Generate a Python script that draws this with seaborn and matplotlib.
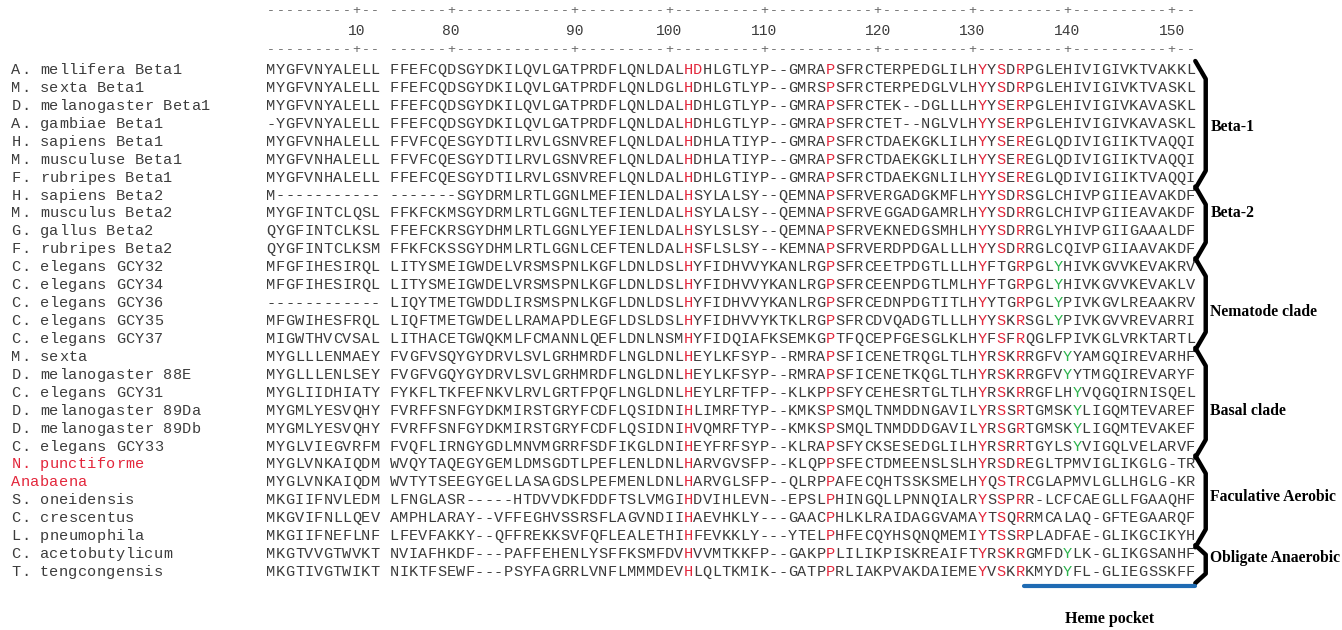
import matplotlib
matplotlib.use("Agg")
import matplotlib.pyplot as plt
import seaborn as sns
import pandas as pd

# sequence names (rows, top to bottom)
names = [
    "A. mellifera Beta1", "M. sexta Beta1", "D. melanogaster Beta1", "A. gambiae Beta1",
    "H. sapiens Beta1", "M. musculuse Beta1", "F. rubripes Beta1",
    "H. sapiens Beta2", "M. musculus Beta2", "G. gallus Beta2", "F. rubripes Beta2",
    "C. elegans GCY32", "C. elegans GCY34", "C. elegans GCY36", "C. elegans GCY35", "C. elegans GCY37",
    "M. sexta", "D. melanogaster 88E", "C. elegans GCY31", "D. melanogaster 89Da",
    "D. melanogaster 89Db", "C. elegans GCY33",
    "N. punctiforme", "Anabaena", "S. oneidensis", "C. crescentus", "L. pneumophila",
    "C. acetobutylicum", "T. tengcongensis",
]
red_names = ["N. punctiforme", "Anabaena"]

# residues 1-12
block1 = [
    "MYGFVNYALELL", "MYGFVNYALELL", "MYGFVNYALELL", "-YGFVNYALELL",
    "MYGFVNHALELL", "MYGFVNHALELL", "MYGFVNHALELL",
    "M-----------", "MYGFINTCLQSL", "QYGFINTCLKSL", "QYGFINTCLKSM",
    "MFGFIHESIRQL", "MFGFIHESIRQL", "------------", "MFGWIHESFRQL", "MIGWTHVCVSAL",
    "MYGLLLENMAEY", "MYGLLLENLSEY", "MYGLIIDHIATY", "MYGMLYESVQHY",
    "MYGMLYESVQHY", "MYGLVIEGVRFM",
    "MYGLVNKAIQDM", "MYGLVNKAIQDM", "MKGIIFNVLEDM", "MKGVIFNLLQEV", "MKGIIFNEFLNF",
    "MKGTVVGTWVKT", "MKGTIVGTWIKT",
]

# residues ~74-152 (aligned)
block2 = [
    "FFEFCQDSGYDKILQVLGATPRDFLQNLDALHDHLGTLYP--GMRAPSFRCTERPEDGLILHYYSDRPGLEHIVIGIVKTVAKKL",
    "FFEFCQDSGYDKILQVLGATPRDFLQNLDGLHDHLGTLYP--GMRSPSFRCTERPEDGLVLHYYSDRPGLEHIVIGIVKTVASKL",
    "FFEFCQDSGYDKILQVLGATPRDFLQNLDALHDHLGTLYP--GMRAPSFRCTEK--DGLLLHYYSERPGLEHIVIGIVKAVASKL",
    "FFEFCQDSGYDKILQVLGATPRDFLQNLDALHDHLGTLYP--GMRAPSFRCTET--NGLVLHYYSERPGLEHIVIGIVKAVASKL",
    "FFVFCQESGYDTILRVLGSNVREFLQNLDALHDHLATIYP--GMRAPSFRCTDAEKGKLILHYYSEREGLQDIVIGIIKTVAQQI",
    "FFVFCQESGYDTILRVLGSNVREFLQNLDALHDHLATIYP--GMRAPSFRCTDAEKGKLILHYYSEREGLQDIVIGIIKTVAQQI",
    "FFEFCQESGYDTILRVLGSNVREFLQNLDALHDHLGTIYP--GMRAPSFRCTDAEKGNLILHYYSEREGLQDIVIGIIKTVAQQI",
    "-------SGYDRMLRTLGGNLMEFIENLDALHSYLALSY--QEMNAPSFRVERGADGKMFLHYYSDRSGLCHIVPGIIEAVAKDF",
    "FFKFCKMSGYDRMLRTLGGNLTEFIENLDALHSYLALSY--QEMNAPSFRVEGGADGAMRLHYYSDRRGLCHIVPGIIEAVAKDF",
    "FFEFCKRSGYDHMLRTLGGNLYEFIENLDALHSYLSLSY--QEMNAPSFRVEKNEDGSMHLHYYSDRRGLYHIVPGIIGAAALDF",
    "FFKFCKSSGYDHMLRTLGGNLCEFTENLDALHSFLSLSY--KEMNAPSFRVERDPDGALLLHYYSDRRGLCQIVPGIIAAVAKDF",
    "LITYSMEIGWDELVRSMSPNLKGFLDNLDSLHYFIDHVVYKANLRGPSFRCEETPDGTLLLHYFTGRPGLYHIVKGVVKEVAKRV",
    "LITYSMEIGWDELVRSMSPNLKGFLDNLDSLHYFIDHVVYKANLRGPSFRCEENPDGTLMLHYFTGRPGLYHIVKGVVKEVAKLV",
    "LIQYTMETGWDDLIRSMSPNLKGFLDNLDSLHYFIDHVVYKANLRGPSFRCEDNPDGTITLHYYTGRPGLYPIVKGVLREAAKRV",
    "LIQFTMETGWDELLRAMAPDLEGFLDSLDSLHYFIDHVVYKTKLRGPSFRCDVQADGTLLLHYYSKRSGLYPIVKGVVREVARRI",
    "LITHACETGWQKMLFCMANNLQEFLDNLNSMHYFIDQIAFKSEMKGPTFQCEPFGESGLKLHYFSFRQGLFPIVKGLVRKTARTL",
    "FVGFVSQYGYDRVLSVLGRHMRDFLNGLDNLHEYLKFSYP--RMRAPSFICENETRQGLTLHYRSKRRGFVYYAMGQIREVARHF",
    "FVGFVGQYGYDRVLSVLGRHMRDFLNGLDNLHEYLKFSYP--RMRAPSFICENETKQGLTLHYRSKRRGFVYYTMGQIREVARYF",
    "FYKFLTKFEFNKVLRVLGRTFPQFLNGLDNLHEYLRFTFP--KLKPPSFYCEHESRTGLTLHYRSKRRGFLHYVQGQIRNISQEL",
    "FVRFFSNFGYDKMIRSTGRYFCDFLQSIDNIHLIMRFTYP--KMKSPSMQLTNMDDNGAVILYRSSRTGMSKYLIGQMTEVAREF",
    "FVRFFSNFGYDKMIRSTGRYFCDFLQSIDNIHVQMRFTYP--KMKSPSMQLTNMDDDGAVILYRSGRTGMSKYLIGQMTEVAKEF",
    "FVQFLIRNGYGDLMNVMGRRFSDFIKGLDNIHEYFRFSYP--KLRAPSFYCKSESEDGLILHYRSRRTGYLSYVIGQLVELARVF",
    "WVQYTAQEGYGEMLDMSGDTLPEFLENLDNLHARVGVSFP--KLQPPSFECTDMEENSLSLHYRSDREGLTPMVIGLIKGLG-TR",
    "WVTYTSEEGYGELLASAGDSLPEFMENLDNLHARVGLSFP--QLRPPAFECQHTSSKSMELHYQSTRCGLAPMVLGLLHGLG-KR",
    "LFNGLASR-----HTDVVDKFDDFTSLVMGIHDVIHLEVN--EPSLPHINGQLLPNNQIALRYSSPRR-LCFCAEGLLFGAAQHF",
    "AMPHLARAY--VFFEGHVSSRSFLAGVNDIIHAEVHKLY---GAACPHLKLRAIDAGGVAMAYTSQRRMCALAQ-GFTEGAARQF",
    "LFEVFAKKY--QFFREKKSVFQFLEALETHIHFEVKKLY---YTELPHFECQYHSQNQMEMIYTSSRPLADFAE-GLIKGCIKYH",
    "NVIAFHKDF---PAFFEHENLYSFFKSMFDVHVVMTKKFP--GAKPPLILIKPISKREAIFTYRSKRGMFDYLK-GLIKGSANHF",
    "NIKTFSEWF---PSYFAGRRLVNFLMMMDEVHLQLTKMIK--GATPPRLIAKPVAKDAIEMEYVSKRKMYDYFL-GLIEGSSKFF",
]

# highlighted positions (1-based, within block2)
red_std = [32, 47, 63, 65, 67]
red_cols = ([[32, 33, 47, 63, 65, 67]] + [red_std] * 10
            + [[32, 47, 63, 67]] * 3 + [red_std] * 2
            + [red_std] * 6 + [red_std] * 5 + [red_std] * 2)
green_cols = ([[]] * 11 + [[71]] * 4 + [[]]
              + [[72], [72], [73], [73], [73], [73]]
              + [[]] * 5 + [[72], [72]])

# numbering ruler (T. tengcongensis numbering)
ruler1_ticks = [10]
ruler1_nums = ["10"]
ruler2_ticks = [7, 20, 30, 40, 52, 62, 72, 83]
ruler2_nums = ["80", "90", "100", "110", "120", "130", "140", "150"]

groups = ["Beta-1", "Beta-2", "Nematode clade", "Basal clade",
          "Faculative Aerobic", "Obligate Anaerobic"]
group_first = [0, 7, 11, 16, 22, 27]
group_last = [6, 10, 15, 21, 26, 28]
label_rows = [3.2, 8.0, 13.5, 19.0, 23.8, 27.2]

heme_first, heme_last = 68, 85
heme_label = "Heme pocket"

TEXT = "#3c3c3c"
RED = "#e3263b"
GREEN = "#2bb24c"
BLUE = "#1f6bb3"

sns.set_theme(style="white")
plt.rcParams["font.family"] = ["Liberation Mono", "DejaVu Sans Mono"]

fig = plt.figure(figsize=(13.42, 6.3), dpi=100)
ax = fig.add_axes([0, 0, 1, 1])

# global column: block1 -> 1..12, block2 -> 14..98 ; x unit = one character
off2 = 13
n1 = len(block1[0])
n2 = len(block2[0])
last_col = off2 + n2

cells = []
for r, (s1, s2) in enumerate(zip(block1, block2)):
    for i, ch in enumerate(s1):
        cells.append((i + 1, r, ch, TEXT))
    for i, ch in enumerate(s2):
        c = i + 1
        col = TEXT
        if c in red_cols[r]:
            col = RED
        elif c in green_cols[r]:
            col = GREEN
        cells.append((off2 + c, r, ch, col))
df = pd.DataFrame(cells, columns=["x", "y", "ch", "color"])

for x, y, ch, col in df.itertuples(index=False):
    ax.text(x, y, ch, ha="center", va="center", fontsize=11, color=col)

# names, monospaced, same pitch
name_start = -25.9
for r, nm in enumerate(names):
    col = RED if nm in red_names else TEXT
    for i, ch in enumerate(nm):
        ax.text(name_start + i, r, ch, ha="center", va="center", fontsize=11, color=col)

# rulers
rul1 = "".join("+" if c in ruler1_ticks else "-" for c in range(1, n1 + 1))
rul2 = "".join("+" if c in ruler2_ticks else "-" for c in range(1, n2 + 1))
for yy in (-3.28, -1.12):
    for i, ch in enumerate(rul1):
        ax.text(i + 1, yy, ch, ha="center", va="center", fontsize=9.5, color="#666666")
    for i, ch in enumerate(rul2):
        ax.text(off2 + i + 1, yy, ch, ha="center", va="center", fontsize=9.5, color="#666666")
for t, lab in zip(ruler1_ticks, ruler1_nums):
    ax.text(t, -2.17, lab, ha="center", va="center", fontsize=10.5, color=TEXT)
for t, lab in zip(ruler2_ticks, ruler2_nums):
    ax.text(off2 + t, -2.17, lab, ha="center", va="center", fontsize=10.5, color=TEXT)

# braces for the clades
bx0 = last_col + 0.5
bx1 = last_col + 1.6
pts = []
for g, (a, b) in enumerate(zip(group_first, group_last)):
    top = a - 0.5
    bot = b + 0.62
    hook = min(1.0, (bot - top) / 4)
    for px, py in [(bx0, top), (bx1, top + hook), (bx1, bot - hook), (bx0, bot)]:
        pts.append((g, px, py))
br = pd.DataFrame(pts, columns=["grp", "x", "y"])
sns.lineplot(data=br, x="x", y="y", units="grp", estimator=None, sort=False,
             color="black", linewidth=3.2, ax=ax, legend=False)

for g, yr in zip(groups, label_rows):
    ax.text(last_col + 2.1, yr, g, ha="left", va="center", fontsize=11.3,
            fontweight="bold", family="Liberation Serif", color="black")

# heme pocket bar
hp = pd.DataFrame({"x": [off2 + heme_first - 0.6, off2 + heme_last + 0.5],
                   "y": [len(names) - 1 + 0.78] * 2})
sns.lineplot(data=hp, x="x", y="y", color=BLUE, linewidth=3, ax=ax, legend=False)
ax.text((off2 + heme_first + off2 + heme_last) / 2, len(names) - 1 + 2.6, heme_label,
        ha="center", va="center", fontsize=11.5, fontweight="bold",
        family="Liberation Serif", color="black")

pitch = 9.48
rowh = 17.93
ax.set_xlim(1 - 271 / pitch, 1 + (1342 - 271) / pitch)
ax.set_ylim((630 - 70) / rowh, -70 / rowh)
ax.axis("off")

fig.savefig("out.png", dpi=100, facecolor="white")
